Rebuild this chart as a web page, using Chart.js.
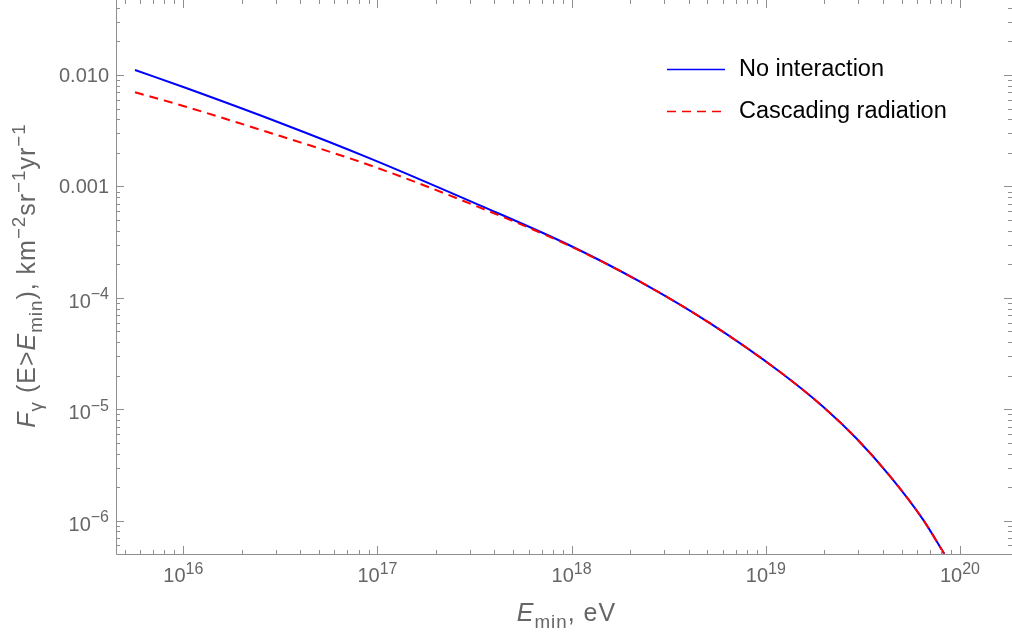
<!DOCTYPE html>
<html>
<head>
<meta charset="utf-8">
<script src="https://cdn.jsdelivr.net/npm/chart.js@4"></script>
<style>
    html, body { margin: 0; padding: 0; background: #fff; }
    #wrap { width: 1012px; height: 641px; position: relative; }
</style>
</head>
<body>
<div id="wrap"><canvas id="myChart"></canvas></div>
<script>
// E_min in eV
const energies = [5.64e15, 1.0e16, 3.16e16, 9.14e16, 3.37e17, 9.8e17, 2.25e18, 5.15e18, 1.18e19, 1.98e19, 2.94e19, 4.36e19, 6.47e19, 8.3e19];
const noInteraction = [1.109e-2, 7.80e-3, 3.71e-3, 1.786e-3, 6.76e-4, 2.95e-4, 1.396e-4, 5.92e-5, 2.17e-5, 1.047e-5, 5.43e-6, 2.51e-6, 1.016e-6, 5.04e-7];
const cascading = [7.00e-3, 5.27e-3, 2.83e-3, 1.549e-3, 6.46e-4, 2.92e-4, 1.396e-4, 5.92e-5, 2.17e-5, 1.047e-5, 5.43e-6, 2.51e-6, 1.016e-6, 5.04e-7];
const seriesNames = ['No interaction', 'Cascading radiation'];
const xDecades = [16, 17, 18, 19, 20];
const yDecades = [-2, -3, -4, -5, -6];
const yPlainLabels = { '-2': '0.010', '-3': '0.001' };

const AXIS = '#8f8f8f';
const LABEL = '#666666';
const FONT = '"Liberation Sans", Arial, sans-serif';

function toPoints(ys) {
    return energies.map((e, i) => ({ x: e, y: ys[i] }));
}

// a run of pieces {t, it, sub, sup}, drawn char by char so it can be tracked out a bit
function partFont(p, size, ratio) {
    const s = (p.sub || p.sup) ? size * ratio : size;
    return (p.it ? 'italic ' : '') + s + 'px ' + FONT;
}

function richWidth(ctx, parts, size, ratio, track) {
    let w = 0;
    parts.forEach(p => {
        ctx.font = partFont(p, size, ratio);
        for (const ch of p.t) w += ctx.measureText(ch).width + track;
    });
    return w - track;
}

function drawRich(ctx, parts, x, y, size, ratio, track) {
    let cx = x;
    parts.forEach(p => {
        ctx.font = partFont(p, size, ratio);
        let dy = 0;
        if (p.sub) dy = size * 0.28;
        if (p.sup) dy = -size * 0.42;
        for (const ch of p.t) {
            ctx.fillText(ch, cx, y + dy);
            cx += ctx.measureText(ch).width + track;
        }
    });
}

function powParts(d) {
    return [{ t: '10' }, { t: String(d).replace('-', '\u2212'), sup: true }];
}

const framePlugin = {
    id: 'frame',
    afterDraw(chart) {
        const { ctx, chartArea: a, scales: { x, y } } = chart;
        ctx.save();
        ctx.strokeStyle = AXIS;
        ctx.lineWidth = 1;
        ctx.beginPath();
        ctx.moveTo(a.left + 0.5, a.top);
        ctx.lineTo(a.left + 0.5, a.bottom + 0.5);
        ctx.lineTo(a.right, a.bottom + 0.5);
        ctx.stroke();

        // tick marks, all four sides, pointing inward
        ctx.beginPath();
        for (let d = 15; d <= 20; d++) {
            for (let m = 1; m <= 9; m++) {
                const v = m * Math.pow(10, d);
                const px = Math.round(x.getPixelForValue(v)) + 0.5;
                if (px < a.left + 2 || px > a.right) continue;
                const len = m === 1 ? 8 : 4;
                ctx.moveTo(px, a.bottom);
                ctx.lineTo(px, a.bottom - len);
                ctx.moveTo(px, a.top);
                ctx.lineTo(px, a.top + len);
            }
        }
        for (let d = -7; d <= -1; d++) {
            for (let m = 1; m <= 9; m++) {
                const v = m * Math.pow(10, d);
                const py = Math.round(y.getPixelForValue(v)) + 0.5;
                if (py < a.top || py > a.bottom - 2) continue;
                const len = m === 1 ? 8 : 4;
                ctx.moveTo(a.left, py);
                ctx.lineTo(a.left + len, py);
                ctx.moveTo(a.right, py);
                ctx.lineTo(a.right - len, py);
            }
        }
        ctx.stroke();

        // tick labels
        ctx.fillStyle = LABEL;
        ctx.textAlign = 'left';
        ctx.textBaseline = 'alphabetic';
        const ts = 20;
        xDecades.forEach(d => {
            const px = x.getPixelForValue(Math.pow(10, d));
            const parts = powParts(d);
            const w = richWidth(ctx, parts, ts, 0.8, 0);
            drawRich(ctx, parts, px - w / 2, a.bottom + 28, ts, 0.8, 0);
        });
        yDecades.forEach(d => {
            const py = y.getPixelForValue(Math.pow(10, d));
            const plain = yPlainLabels[String(d)];
            if (plain) {
                ctx.font = ts + 'px ' + FONT;
                ctx.textAlign = 'right';
                ctx.textBaseline = 'middle';
                ctx.fillText(plain, a.left - 7, py + 1);
                ctx.textAlign = 'left';
                ctx.textBaseline = 'alphabetic';
            } else {
                const parts = powParts(d);
                const w = richWidth(ctx, parts, ts, 0.8, 0);
                drawRich(ctx, parts, a.left - 7 - w, py + 10, ts, 0.8, 0);
            }
        });

        // axis titles
        const hs = 25;
        const xTitle = [{ t: 'E', it: true }, { t: 'min', sub: true }, { t: ', eV' }];
        const xw = richWidth(ctx, xTitle, hs, 0.75, 1);
        drawRich(ctx, xTitle, 566 - xw / 2, 621, hs, 0.75, 1);

        const yTitle = [
            { t: 'F', it: true }, { t: '\u03b3', sub: true }, { t: ' (E>' },
            { t: 'E', it: true }, { t: 'min', sub: true }, { t: '), km' },
            { t: '\u22122', sup: true }, { t: 'sr' }, { t: '\u22121', sup: true },
            { t: 'yr' }, { t: '\u22121', sup: true }
        ];
        const yw = richWidth(ctx, yTitle, hs, 0.75, 1);
        ctx.save();
        ctx.translate(35, 276);
        ctx.rotate(-Math.PI / 2);
        drawRich(ctx, yTitle, -yw / 2, 0, hs, 0.75, 1);
        ctx.restore();

        // legend
        const ds = chart.data.datasets;
        const rows = [69, 111];
        seriesNames.forEach((name, i) => {
            const set = ds.find(s => s.label === name);
            ctx.strokeStyle = set.borderColor;
            ctx.lineWidth = 1.5;
            ctx.setLineDash(set.borderDash || []);
            ctx.beginPath();
            ctx.moveTo(667, rows[i] + 0.5);
            ctx.lineTo(725, rows[i] + 0.5);
            ctx.stroke();
            ctx.setLineDash([]);
            ctx.fillStyle = '#000';
            ctx.font = '23.5px ' + FONT;
            ctx.textBaseline = 'middle';
            ctx.fillText(name, 739, rows[i] + 1);
        });
        ctx.restore();
    }
};

const ctx = document.getElementById('myChart').getContext('2d');
const myChart = new Chart(ctx, {
    type: 'scatter',
    data: {
        datasets: [{
            label: seriesNames[0],
            data: toPoints(noInteraction),
            showLine: true,
            borderColor: '#0000ff',
            borderWidth: 2,
            pointRadius: 0,
            cubicInterpolationMode: 'monotone',
            order: 2
        }, {
            label: seriesNames[1],
            data: toPoints(cascading),
            showLine: true,
            borderColor: '#ff0000',
            borderWidth: 2,
            borderDash: [9, 6],
            pointRadius: 0,
            cubicInterpolationMode: 'monotone',
            order: 1
        }]
    },
    options: {
        responsive: true,
        maintainAspectRatio: false,
        animation: false,
        devicePixelRatio: 1,
        layout: {
            padding: { left: 116, top: 0, right: 0, bottom: 87 }
        },
        scales: {
            x: {
                type: 'logarithmic',
                display: false,
                min: Math.pow(10, 15.6534),
                max: Math.pow(10, 20.2680)
            },
            y: {
                type: 'logarithmic',
                display: false,
                min: Math.pow(10, -6.299),
                max: Math.pow(10, -1.327)
            }
        },
        plugins: {
            legend: { display: false },
            tooltip: { enabled: false }
        }
    },
    plugins: [framePlugin]
});
</script>
</body>
</html>
